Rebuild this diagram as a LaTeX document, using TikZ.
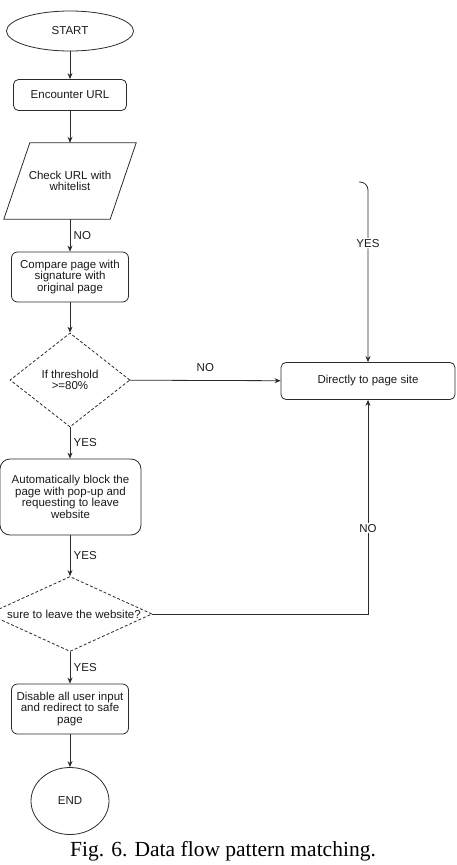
\documentclass[tikz,border=0pt]{standalone}
\usepackage{fontspec}
\setmainfont{Liberation Sans}
\newfontfamily\capfont{Liberation Serif}
\usetikzlibrary{arrows.meta,shapes.geometric,calc}
\definecolor{ink}{HTML}{2B2B2B}
\definecolor{txt}{HTML}{1A1A1A}
\tikzset{
  >={Stealth[length=6pt,width=5pt]},
  fbox/.style={draw=ink,line width=0.8pt,rounded corners=6pt,align=center,inner sep=2pt},
  term/.style={ellipse,draw=ink,line width=0.8pt,inner sep=0pt},
  dec/.style={diamond,draw=ink,line width=0.8pt,dash pattern=on 3pt off 2pt,inner sep=0pt,align=center},
  io/.style={align=center,inner sep=2pt},
  lab/.style={text=txt},
  arr/.style={->,draw=ink,line width=0.8pt},
}
\begin{document}
\begin{tikzpicture}[x=1pt,y=1pt,every node/.style={font=\fontsize{11.5}{11.5}\selectfont,text=txt}]
\useasboundingbox (0,0) rectangle (457,-865);
\node[term,minimum width=127pt,minimum height=40pt] (start) at (70,-31) {START};
\node[fbox,minimum width=113pt,minimum height=31pt,rounded corners=5pt] (enc) at (70,-95) {Encounter URL};
\node[io,minimum width=106pt,minimum height=76pt] (chk) at (70,-181) {Check URL with\\whitelist};
\draw[ink,line width=0.8pt] ($(chk.north west)+(13,0)$) -- ($(chk.north east)+(13,0)$) -- ($(chk.south east)+(-13,0)$) -- ($(chk.south west)+(-13,0)$) -- cycle;
\node[fbox,minimum width=117pt,minimum height=50pt] (cmp) at (70,-277) {Compare page with\\signature with\\original page};
\node[dec,minimum width=120pt,minimum height=94pt] (thr) at (70,-380) {If threshold\\{>}=80\%};
\node[fbox,minimum width=174pt,minimum height=37pt,rounded corners=5pt] (dir) at (368,-381) {Directly to page site};
\node[fbox,minimum width=141pt,minimum height=76pt,rounded corners=10pt] (blk) at (70.5,-497) {Automatically block the\\page with pop-up and\\requesting to leave\\website};
\node[dec,minimum width=164pt,minimum height=75pt,label={[xshift=4pt]center:sure to leave the website?}] (sure) at (70,-614) {};
\node[fbox,minimum width=117pt,minimum height=50pt] (dis) at (70,-709) {Disable all user input\\and redirect to safe\\page};
\node[term,minimum width=78pt,minimum height=67pt] (end) at (70,-801) {END};
\coordinate (hook) at (359,-182);
\draw[arr] (start) -- (enc);
\draw[arr] (enc) -- (chk);
\draw[arr] (chk) -- node[lab,right]{NO} (cmp);
\draw[arr] (cmp) -- (thr);
\draw[arr] (thr) -- node[lab,above=5pt]{NO} (dir);
\draw[arr] (thr) -- node[lab,right]{YES} (blk.north -| thr);
\draw[arr] (blk.south -| sure) -- node[lab,right]{YES} (sure);
\draw[arr] (sure.east) -| node[lab,fill=white,inner sep=1pt,pos=.7]{NO} (dir.south);
\draw[arr] (sure) -- node[lab,right]{YES} (dis);
\draw[arr] (dis) -- (end);
\draw[arr,rounded corners=8pt] (hook) -| node[lab,fill=white,inner sep=1pt,pos=.67]{YES} (dir.north);
\node[font=\capfont\fontsize{21.5}{24}\selectfont,text=black] (cap) at (223,-851) {Fig. 6. Data flow pattern matching.};
\end{tikzpicture}
\end{document}
